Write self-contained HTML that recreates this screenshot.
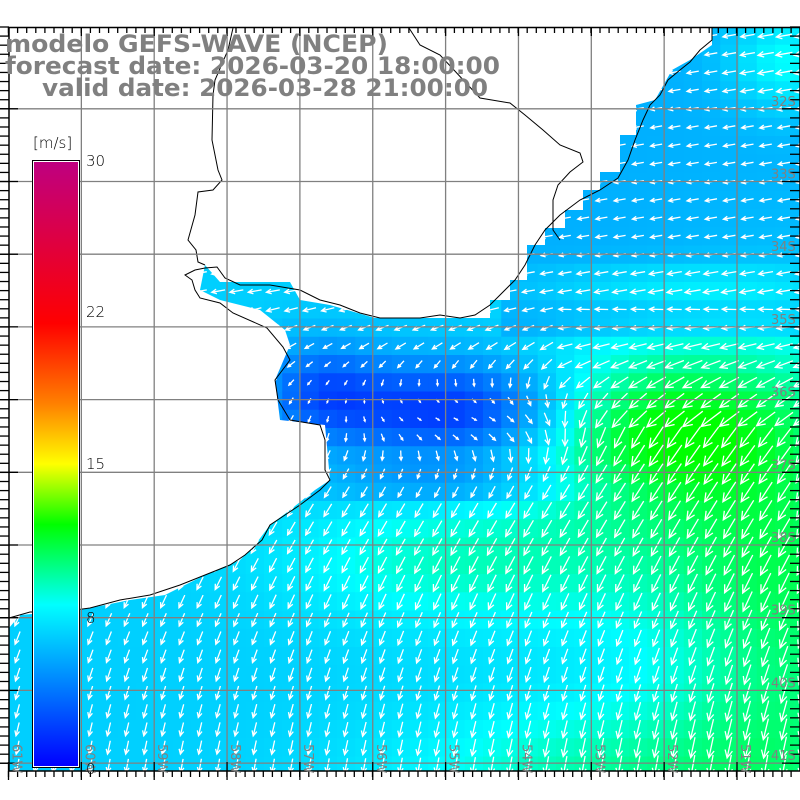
<!DOCTYPE html>
<html><head><meta charset="utf-8"><style>
html,body{margin:0;padding:0;background:#fff;}
svg{display:block;}
</style></head><body>
<svg id="s" xmlns="http://www.w3.org/2000/svg" width="800" height="800" viewBox="0 0 800 800">
<defs>
<linearGradient id="cb" x1="0" y1="1" x2="0" y2="0">
<stop offset="0" stop-color="#0000ff"/>
<stop offset="0.267" stop-color="#00ffff"/>
<stop offset="0.4" stop-color="#00ff00"/>
<stop offset="0.5" stop-color="#ffff00"/>
<stop offset="0.6" stop-color="#ff8000"/>
<stop offset="0.733" stop-color="#ff0000"/>
<stop offset="1" stop-color="#bf0080"/>
</linearGradient>
<clipPath id="mc"><rect x="9" y="28" width="791" height="743"/></clipPath>
</defs>
<g id="cells" clip-path="url(#mc)"></g>
<g id="arrows" clip-path="url(#mc)" stroke="#fff" stroke-width="1.3" fill="none"></g>
<path d="M0,0 L800,0 L800,27 L712,27 L712,45 L690,60 L672,70 L655,100 L636,105 L636,135 L620,135 L620,172 L600,172 L600,190 L583,190 L583,210 L565,210 L565,228 L545,228 L545,245 L527,245 L527,280 L510,280 L510,300 L490,300 L490,318 L440,318 L375,318 L330,305 L300,300 L290,282 L220,282 L205,265 L200,290 L220,300 L260,310 L285,330 L290,345 L275,380 L280,420 L325,425 L330,480 L315,490 L290,510 L270,525 L255,545 L240,560 L205,575 L165,595 L130,600 L80,610 L20,615 L9,628 L9,800 L0,800 Z" fill="#fff"/>
<path d="M712,27 L712,40 L700,50 L690,62 L680,70 L668,80 L660,95 L650,105 L643,120 L635,140 L628,160 L618,178 L600,190 L580,200 L560,215 L545,230 L535,245 L525,265 L515,280 L500,295 L490,305 L475,315 L460,318 L440,315 L420,318 L400,318 L380,318 L360,313 L340,305 L320,300 L300,290 L270,285 L240,285 L225,278 L217,267 L205,268 L195,270 L185,275 L192,280 L195,290 L200,298 L220,303 L233,313 L267,328 L283,347 L290,360 L275,380 L278,400 L290,420 L320,425 L325,440 L325,470 L330,480 L320,490 L300,505 L285,515 L270,525 L262,540 L245,555 L230,565 L205,575 L180,585 L150,595 L120,600 L90,608 L60,612 L30,612 L9,618" fill="none" stroke="#000" stroke-width="1"/>
<path d="M409,28 L420,45 L440,55 L480,98 L510,103 L525,115 L543,130 L560,145 L580,153 L583,162 L570,172 L558,185 L553,200 L553,230 L560,240 M233,28 L228,50 L215,80 L213,95 L212,140 L218,170 L222,180 L213,190 L198,192 L195,215 L188,240 L196,250 L198,262 L205,265" fill="none" stroke="#000" stroke-width="1"/>
<g id="grid" stroke="#808080" stroke-width="1.3"></g>
<g id="ticks" stroke="#000" stroke-width="1.3"></g>
<rect x="9" y="27.5" width="791" height="743.5" fill="none" stroke="#000" stroke-width="1.5"/>
<g id="labels" fill="#808080" font-family="'DejaVu Sans', sans-serif" font-size="12"></g>
<g fill="#808080" font-family="'DejaVu Sans','Liberation Sans',sans-serif" font-weight="bold" font-size="24">
<text x="5" y="52" textLength="383" lengthAdjust="spacingAndGlyphs">modelo GEFS-WAVE (NCEP)</text>
<text x="5" y="74" textLength="495" lengthAdjust="spacingAndGlyphs">forecast date: 2026-03-20 18:00:00</text>
<text x="42" y="96" textLength="446" lengthAdjust="spacingAndGlyphs">valid date: 2026-03-28 21:00:00</text>
</g>
<rect x="32.5" y="160.5" width="47" height="607" fill="#fff" stroke="#000" stroke-width="1"/>
<rect x="34" y="162" width="44" height="604" fill="url(#cb)"/>
<g fill="#000" font-family="'DejaVu Sans','Liberation Sans',sans-serif" font-size="15" font-weight="300">
<text x="33" y="148">[m/s]</text>
<text x="86" y="166">30</text>
<text x="86" y="317">22</text>
<text x="86" y="469">15</text>
<text x="86" y="623">8</text>
<text x="86" y="774">0</text>
</g>
</svg>
<script>
var NS="http://www.w3.org/2000/svg";
function el(t,a,p){var e=document.createElementNS(NS,t);for(var k in a)e.setAttribute(k,a[k]);p.appendChild(e);return e;}
function g(x,y,cx,cy,rx,ry){return Math.exp(-((x-cx)*(x-cx)/(rx*rx)+(y-cy)*(y-cy)/(ry*ry)));}
function speed(x,y){
 var s=6.5;
 s+=5*g(x,y,660,430,130,80);
 s+=3.5*g(x,y,800,600,130,250);
 s+=3*g(x,y,620,790,220,90);
 s+=1.8*g(x,y,600,560,200,80);
 s+=1.5*g(x,y,420,560,150,60);
 s-=5*g(x,y,450,410,120,50);
 s-=3*g(x,y,320,390,60,50);
 s-=2*g(x,y,450,485,130,20);
 if(y<330&&x>500) s-=1.0;
 s+=1.5*g(x,y,680,285,150,20);
 s+=2.5*g(x,y,790,60,60,50);
 return Math.max(0.5,Math.min(12,s));
}
var stops=[[0,0,0,255],[8,0,255,255],[12,0,255,0],[15,255,255,0],[18,255,128,0],[22,255,0,0],[30,190,0,130]];
function col(s){
 for(var i=0;i<stops.length-1;i++){var a=stops[i],b=stops[i+1];
  if(s<=b[0]){var t=(s-a[0])/(b[0]-a[0]);if(t<0)t=0;
   return "rgb("+Math.round(a[1]+(b[1]-a[1])*t)+","+Math.round(a[2]+(b[2]-a[2])*t)+","+Math.round(a[3]+(b[3]-a[3])*t)+")";}}
 return "rgb(190,0,130)";
}
function ang(x,y){
 var a;
 if(y<=300)a=170;else if(y<400)a=170-40*(y-300)/100;else if(y<600)a=130-15*(y-400)/200;else a=115-15*Math.min(1,(y-600)/170);
 if(y>300&&y<420&&x>560) a+=15;
 var r=a*Math.PI/180,vx=Math.cos(r),vy=Math.sin(r);
 var w=g(x,y,460,420,120,45);
 vx=vx*(1-w)+Math.cos(30*Math.PI/180)*w; vy=vy*(1-w)+Math.sin(30*Math.PI/180)*w;
 var n=Math.hypot(vx,vy)||1;return [vx/n,vy/n];
}
var C=document.getElementById("cells"),A=document.getElementById("arrows");
var cw=18.25,x0=8.5,y0=26.5;
for(var i=0;i<44;i++)for(var j=0;j<42;j++){
 var x=x0+i*cw,y=y0+j*cw,cx=x+cw/2,cy=y+cw/2;
 var s=speed(cx,cy);
 el("rect",{x:x.toFixed(2),y:y.toFixed(2),width:(cw+0.3).toFixed(2),height:(cw+0.3).toFixed(2),fill:col(s)},C);
 var d=ang(cx,cy),L=Math.min(26,2.1*s);
 var hx=cx+d[0]*L/2,hy=cy+d[1]*L/2,tx=cx-d[0]*L/2,ty=cy-d[1]*L/2;
 var b=L*0.4,ca=Math.cos(0.45),sa=Math.sin(0.45);
 var bx1=hx-b*(d[0]*ca-d[1]*sa),by1=hy-b*(d[1]*ca+d[0]*sa);
 var bx2=hx-b*(d[0]*ca+d[1]*sa),by2=hy-b*(d[1]*ca-d[0]*sa);
 el("path",{d:"M"+tx.toFixed(1)+","+ty.toFixed(1)+"L"+hx.toFixed(1)+","+hy.toFixed(1)+"M"+bx1.toFixed(1)+","+by1.toFixed(1)+"L"+hx.toFixed(1)+","+hy.toFixed(1)+"L"+bx2.toFixed(1)+","+by2.toFixed(1)},A);
}
var G=document.getElementById("grid"),T=document.getElementById("ticks"),LB=document.getElementById("labels");
var vx=[],hy=[];
for(var k=0;k<11;k++)vx.push(8.5+k*72.85);
for(var k=0;k<10;k++)hy.push(108.8+k*72.7);
vx.forEach(function(x){if(x>10)el("line",{x1:x,y1:28,x2:x,y2:771},G);});
hy.forEach(function(y){el("line",{x1:9,y1:y,x2:800,y2:y},G);});
for(var x=8.5;x<800;x+=9.1){el("line",{x1:x,y1:27,x2:x,y2:33},T);el("line",{x1:x,y1:771,x2:x,y2:777},T);}
for(var y=27;y<771;y+=9.09){el("line",{x1:0,y1:y,x2:9,y2:y},T);el("line",{x1:790,y1:y,x2:800,y2:y},T);}
hy.forEach(function(y){el("line",{x1:0,y1:y,x2:18,y2:y},T);el("line",{x1:782,y1:y,x2:800,y2:y},T);});
vx.forEach(function(x){el("line",{x1:x,y1:27,x2:x,y2:36},T);el("line",{x1:x,y1:762,x2:x,y2:780},T);});
var la=["32S","33S","34S","35S","36S","37S","38S","39S","40S","41S"];
hy.forEach(function(y,k){var t=el("text",{x:771,y:y-3,"font-size":"13"},LB);t.textContent=la[k];});
var lo=["61W","60W","59W","58W","57W","56W","55W","54W","53W","52W","51W"];
vx.forEach(function(x,k){var px=x+4,py=744;var t=el("text",{x:0,y:0,"font-size":"13",transform:"translate("+px+","+py+") rotate(90)"},LB);t.textContent=lo[k];});
</script>
</body></html>
